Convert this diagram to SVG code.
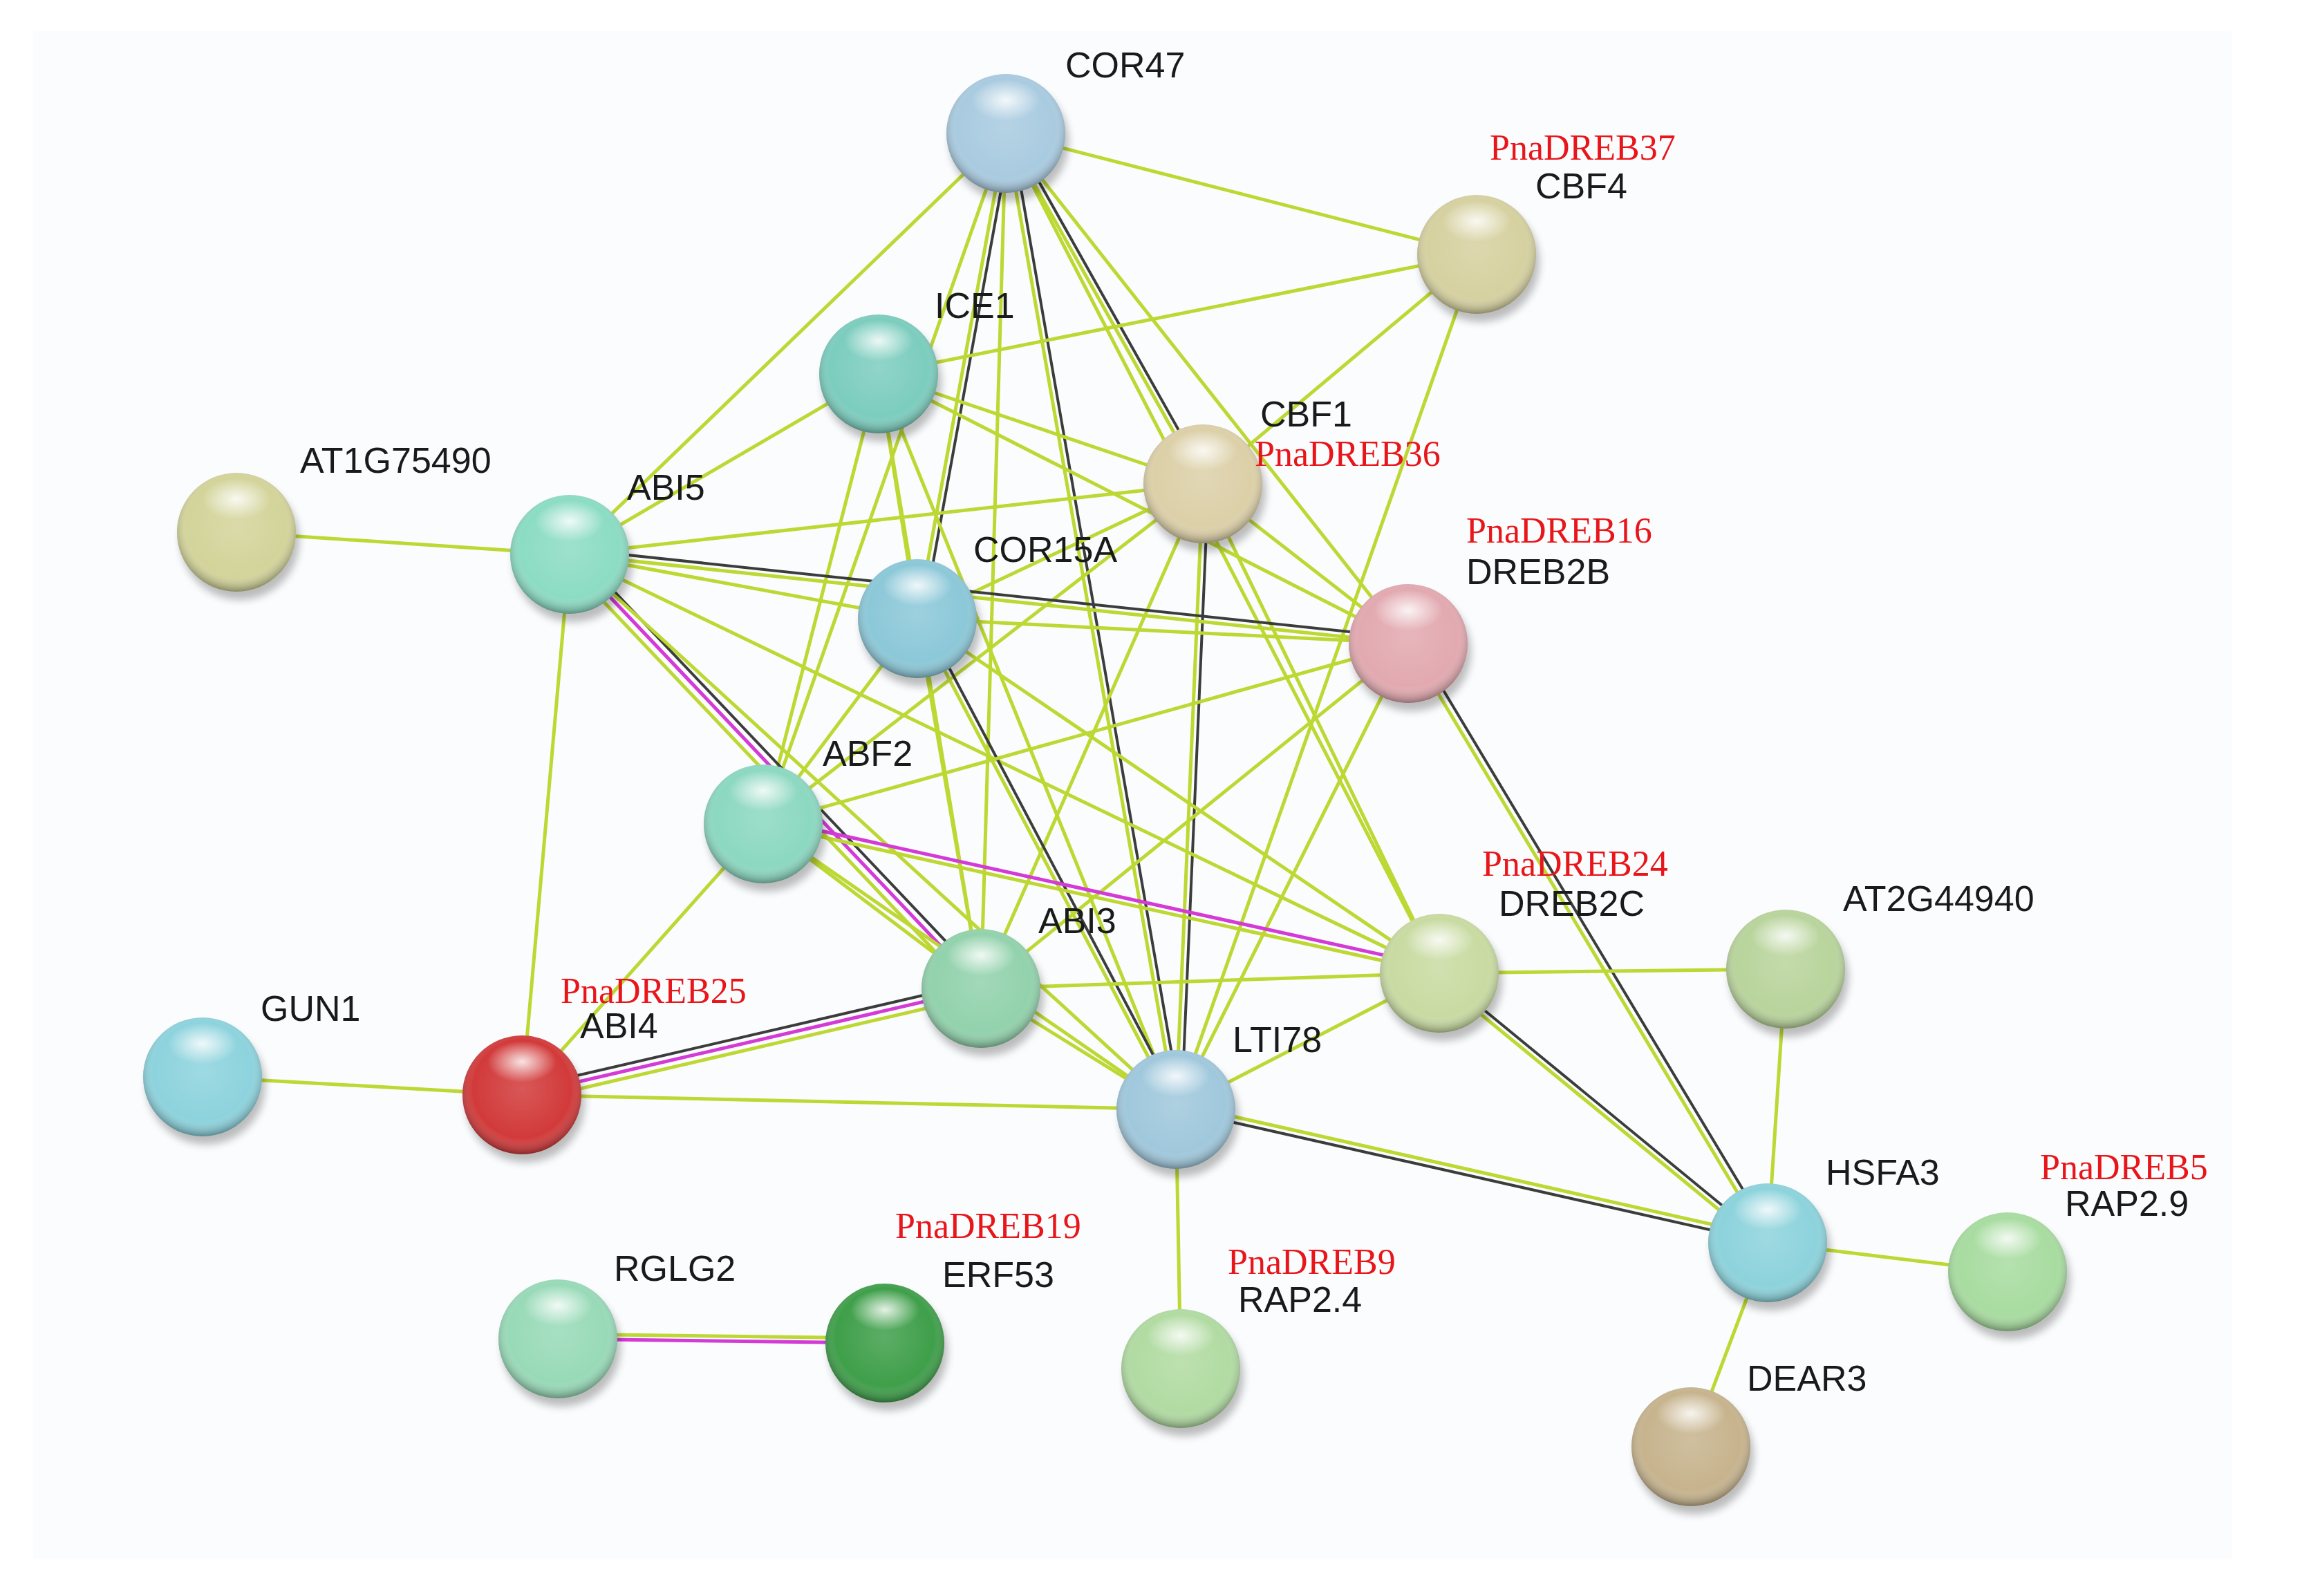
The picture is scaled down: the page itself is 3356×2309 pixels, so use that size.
<svg xmlns="http://www.w3.org/2000/svg" width="3356" height="2309" viewBox="0 0 3356 2309">
<style>
.g{stroke:#bdd733;stroke-width:5;fill:none}
.k{stroke:#3c3c3c;stroke-width:4;fill:none}
.m{stroke:#d33ad6;stroke-width:5;fill:none}
.t{font-family:"Liberation Sans",Arial,sans-serif;font-size:52px;fill:#1a1a1a}
.r{font-family:"Liberation Serif","Times New Roman",serif;font-size:52px;fill:#e8161b}
.sh{fill:url(#shade)}
.hl{fill:url(#hi)}
.sd{fill:#000;opacity:0.25;filter:url(#blur)}
</style>
<defs>
<radialGradient id="shade" cx="0.5" cy="0.45" r="0.55">
<stop offset="0" stop-color="#fff" stop-opacity="0.15"/>
<stop offset="0.75" stop-color="#fff" stop-opacity="0"/>
<stop offset="1" stop-color="#000" stop-opacity="0.35"/>
</radialGradient>
<radialGradient id="hi" cx="0.5" cy="0.5" r="0.5">
<stop offset="0" stop-color="#fff" stop-opacity="0.85"/>
<stop offset="1" stop-color="#fff" stop-opacity="0"/>
</radialGradient>
<filter id="blur"><feGaussianBlur stdDeviation="6"/></filter>
</defs>
<rect width="3356" height="2309" fill="#fff"/>
<rect x="48" y="45" width="3180" height="2210" fill="#fbfcfd"/>
<g id="edges">
<line class="g" x1="1455" y1="193" x2="2136" y2="368"/>
<line class="g" x1="1455" y1="193" x2="824" y2="802"/>
<line class="g" x1="1455" y1="193" x2="1104" y2="1192"/>
<line class="g" x1="1455" y1="193" x2="1419" y2="1430"/>
<line class="g" x1="1455" y1="193" x2="2037" y2="931"/>
<line class="g" x1="1455" y1="193" x2="2082" y2="1408"/>
<line class="g" x1="1455" y1="193" x2="1327" y2="895"/>
<line class="k" x1="1455" y1="193" x2="1327" y2="895" transform="translate(8,0)"/>
<line class="g" x1="1455" y1="193" x2="1701" y2="1605"/>
<line class="k" x1="1455" y1="193" x2="1701" y2="1605" transform="translate(8,0)"/>
<line class="g" x1="1455" y1="193" x2="1740" y2="700"/>
<line class="k" x1="1455" y1="193" x2="1740" y2="700" transform="translate(7,-3)"/>
<line class="g" x1="2136" y1="368" x2="1271" y2="541"/>
<line class="g" x1="2136" y1="368" x2="1740" y2="700"/>
<line class="g" x1="2136" y1="368" x2="1701" y2="1605"/>
<line class="g" x1="1271" y1="541" x2="824" y2="802"/>
<line class="g" x1="1271" y1="541" x2="1740" y2="700"/>
<line class="g" x1="1271" y1="541" x2="2037" y2="931"/>
<line class="g" x1="1271" y1="541" x2="1104" y2="1192"/>
<line class="g" x1="1271" y1="541" x2="1419" y2="1430"/>
<line class="g" x1="1271" y1="541" x2="1701" y2="1605"/>
<line class="g" x1="1271" y1="541" x2="1327" y2="895"/>
<line class="g" x1="1740" y1="700" x2="824" y2="802"/>
<line class="g" x1="1740" y1="700" x2="1104" y2="1192"/>
<line class="g" x1="1740" y1="700" x2="1419" y2="1430"/>
<line class="g" x1="1740" y1="700" x2="2037" y2="931"/>
<line class="g" x1="1740" y1="700" x2="1327" y2="895"/>
<line class="g" x1="1740" y1="700" x2="2082" y2="1408"/>
<line class="g" x1="1740" y1="700" x2="1701" y2="1605"/>
<line class="k" x1="1740" y1="700" x2="1701" y2="1605" transform="translate(8,0)"/>
<line class="g" x1="342" y1="770" x2="824" y2="802"/>
<line class="g" x1="824" y1="802" x2="1327" y2="895"/>
<line class="g" x1="824" y1="802" x2="2037" y2="931"/>
<line class="k" x1="824" y1="802" x2="2037" y2="931" transform="translate(0,-8)"/>
<line class="g" x1="824" y1="802" x2="755" y2="1584"/>
<line class="g" x1="824" y1="802" x2="1419" y2="1430" transform="translate(-10,6)"/>
<line class="m" x1="824" y1="802" x2="1419" y2="1430"/>
<line class="k" x1="824" y1="802" x2="1419" y2="1430" transform="translate(8,-6)"/>
<line class="g" x1="824" y1="802" x2="1701" y2="1605"/>
<line class="g" x1="824" y1="802" x2="2082" y2="1408"/>
<line class="g" x1="1327" y1="895" x2="1104" y2="1192"/>
<line class="g" x1="1327" y1="895" x2="1419" y2="1430"/>
<line class="g" x1="1327" y1="895" x2="1701" y2="1605"/>
<line class="k" x1="1327" y1="895" x2="1701" y2="1605" transform="translate(7,-3)"/>
<line class="g" x1="1327" y1="895" x2="2037" y2="931"/>
<line class="g" x1="1327" y1="895" x2="2082" y2="1408"/>
<line class="g" x1="2037" y1="931" x2="1104" y2="1192"/>
<line class="g" x1="2037" y1="931" x2="1419" y2="1430"/>
<line class="g" x1="2037" y1="931" x2="1701" y2="1605"/>
<line class="g" x1="2037" y1="931" x2="2557" y2="1798"/>
<line class="k" x1="2037" y1="931" x2="2557" y2="1798" transform="translate(8,-4)"/>
<line class="g" x1="1104" y1="1192" x2="1419" y2="1430"/>
<line class="g" x1="1104" y1="1192" x2="755" y2="1584"/>
<line class="g" x1="1104" y1="1192" x2="2082" y2="1408"/>
<line class="m" x1="1104" y1="1192" x2="2082" y2="1408" transform="translate(2,-8)"/>
<line class="g" x1="1104" y1="1192" x2="1701" y2="1605"/>
<line class="g" x1="1419" y1="1430" x2="755" y2="1584" transform="translate(2,10)"/>
<line class="m" x1="1419" y1="1430" x2="755" y2="1584"/>
<line class="k" x1="1419" y1="1430" x2="755" y2="1584" transform="translate(-2,-9)"/>
<line class="g" x1="1419" y1="1430" x2="1701" y2="1605"/>
<line class="g" x1="1419" y1="1430" x2="2082" y2="1408"/>
<line class="g" x1="755" y1="1584" x2="293" y2="1558"/>
<line class="g" x1="755" y1="1584" x2="1701" y2="1605"/>
<line class="g" x1="1701" y1="1605" x2="2082" y2="1408"/>
<line class="g" x1="1701" y1="1605" x2="2557" y2="1798" transform="translate(2,-8)"/>
<line class="k" x1="1701" y1="1605" x2="2557" y2="1798"/>
<line class="g" x1="1701" y1="1605" x2="1708" y2="1980"/>
<line class="g" x1="2082" y1="1408" x2="2583" y2="1402"/>
<line class="g" x1="2082" y1="1408" x2="2557" y2="1798" transform="translate(-5,6)"/>
<line class="k" x1="2082" y1="1408" x2="2557" y2="1798"/>
<line class="g" x1="2583" y1="1402" x2="2557" y2="1798"/>
<line class="g" x1="2557" y1="1798" x2="2904" y2="1840"/>
<line class="g" x1="2557" y1="1798" x2="2446" y2="2093"/>
<line class="g" x1="807" y1="1937" x2="1280" y2="1943" transform="translate(0,-7)"/>
<line class="m" x1="807" y1="1937" x2="1280" y2="1943"/>
</g>
<g id="COR47"><ellipse class="sd" cx="1460" cy="205" rx="86" ry="86"/><circle cx="1455" cy="193" r="86" fill="#a9cbe0"/><circle class="sh" cx="1455" cy="193" r="86"/><ellipse class="hl" cx="1455" cy="145" rx="50" ry="30"/><text class="t" x="1541" y="112">COR47</text></g>
<g id="CBF4"><ellipse class="sd" cx="2141" cy="380" rx="86" ry="86"/><circle cx="2136" cy="368" r="86" fill="#d6d1a0"/><circle class="sh" cx="2136" cy="368" r="86"/><ellipse class="hl" cx="2136" cy="320" rx="50" ry="30"/><text class="r" x="2155" y="231">PnaDREB37</text><text class="t" x="2221" y="287">CBF4</text></g>
<g id="ICE1"><ellipse class="sd" cx="1276" cy="553" rx="86" ry="86"/><circle cx="1271" cy="541" r="86" fill="#7ccdbe"/><circle class="sh" cx="1271" cy="541" r="86"/><ellipse class="hl" cx="1271" cy="493" rx="50" ry="30"/><text class="t" x="1352" y="460">ICE1</text></g>
<g id="CBF1"><ellipse class="sd" cx="1745" cy="712" rx="86" ry="86"/><circle cx="1740" cy="700" r="86" fill="#dcd0a8"/><circle class="sh" cx="1740" cy="700" r="86"/><ellipse class="hl" cx="1740" cy="652" rx="50" ry="30"/><text class="t" x="1823" y="617">CBF1</text><text class="r" x="1815" y="674">PnaDREB36</text></g>
<g id="AT1G75490"><ellipse class="sd" cx="347" cy="782" rx="86" ry="86"/><circle cx="342" cy="770" r="86" fill="#d3d49a"/><circle class="sh" cx="342" cy="770" r="86"/><ellipse class="hl" cx="342" cy="722" rx="50" ry="30"/><text class="t" x="434" y="684">AT1G75490</text></g>
<g id="ABI5"><ellipse class="sd" cx="829" cy="814" rx="86" ry="86"/><circle cx="824" cy="802" r="86" fill="#8cdcc4"/><circle class="sh" cx="824" cy="802" r="86"/><ellipse class="hl" cx="824" cy="754" rx="50" ry="30"/><text class="t" x="907" y="723">ABI5</text></g>
<g id="COR15A"><ellipse class="sd" cx="1332" cy="907" rx="86" ry="86"/><circle cx="1327" cy="895" r="86" fill="#8cc8d8"/><circle class="sh" cx="1327" cy="895" r="86"/><ellipse class="hl" cx="1327" cy="847" rx="50" ry="30"/><text class="t" x="1408" y="813">COR15A</text></g>
<g id="DREB2B"><ellipse class="sd" cx="2042" cy="943" rx="86" ry="86"/><circle cx="2037" cy="931" r="86" fill="#e2a9b0"/><circle class="sh" cx="2037" cy="931" r="86"/><ellipse class="hl" cx="2037" cy="883" rx="50" ry="30"/><text class="r" x="2121" y="785">PnaDREB16</text><text class="t" x="2121" y="845">DREB2B</text></g>
<g id="ABF2"><ellipse class="sd" cx="1109" cy="1204" rx="86" ry="86"/><circle cx="1104" cy="1192" r="86" fill="#8cd8c0"/><circle class="sh" cx="1104" cy="1192" r="86"/><ellipse class="hl" cx="1104" cy="1144" rx="50" ry="30"/><text class="t" x="1190" y="1108">ABF2</text></g>
<g id="ABI3"><ellipse class="sd" cx="1424" cy="1442" rx="86" ry="86"/><circle cx="1419" cy="1430" r="86" fill="#92d2ac"/><circle class="sh" cx="1419" cy="1430" r="86"/><ellipse class="hl" cx="1419" cy="1382" rx="50" ry="30"/><text class="t" x="1502" y="1350">ABI3</text></g>
<g id="DREB2C"><ellipse class="sd" cx="2087" cy="1420" rx="86" ry="86"/><circle cx="2082" cy="1408" r="86" fill="#c9dba2"/><circle class="sh" cx="2082" cy="1408" r="86"/><ellipse class="hl" cx="2082" cy="1360" rx="50" ry="30"/><text class="r" x="2144" y="1267">PnaDREB24</text><text class="t" x="2168" y="1325">DREB2C</text></g>
<g id="AT2G44940"><ellipse class="sd" cx="2588" cy="1414" rx="86" ry="86"/><circle cx="2583" cy="1402" r="86" fill="#b9d49c"/><circle class="sh" cx="2583" cy="1402" r="86"/><ellipse class="hl" cx="2583" cy="1354" rx="50" ry="30"/><text class="t" x="2666" y="1318">AT2G44940</text></g>
<g id="GUN1"><ellipse class="sd" cx="298" cy="1570" rx="86" ry="86"/><circle cx="293" cy="1558" r="86" fill="#8dd3dd"/><circle class="sh" cx="293" cy="1558" r="86"/><ellipse class="hl" cx="293" cy="1510" rx="50" ry="30"/><text class="t" x="377" y="1477">GUN1</text></g>
<g id="ABI4"><ellipse class="sd" cx="760" cy="1596" rx="86" ry="86"/><circle cx="755" cy="1584" r="86" fill="#d23a3a"/><circle class="sh" cx="755" cy="1584" r="86"/><ellipse class="hl" cx="755" cy="1536" rx="50" ry="30"/><text class="r" x="811" y="1451">PnaDREB25</text><text class="t" x="839" y="1502">ABI4</text></g>
<g id="LTI78"><ellipse class="sd" cx="1706" cy="1617" rx="86" ry="86"/><circle cx="1701" cy="1605" r="86" fill="#a0c8dc"/><circle class="sh" cx="1701" cy="1605" r="86"/><ellipse class="hl" cx="1701" cy="1557" rx="50" ry="30"/><text class="t" x="1783" y="1522">LTI78</text></g>
<g id="HSFA3"><ellipse class="sd" cx="2562" cy="1810" rx="86" ry="86"/><circle cx="2557" cy="1798" r="86" fill="#8dd3dc"/><circle class="sh" cx="2557" cy="1798" r="86"/><ellipse class="hl" cx="2557" cy="1750" rx="50" ry="30"/><text class="t" x="2641" y="1714">HSFA3</text></g>
<g id="RAP2.9"><ellipse class="sd" cx="2909" cy="1852" rx="86" ry="86"/><circle cx="2904" cy="1840" r="86" fill="#a8dca0"/><circle class="sh" cx="2904" cy="1840" r="86"/><ellipse class="hl" cx="2904" cy="1792" rx="50" ry="30"/><text class="r" x="2951" y="1706">PnaDREB5</text><text class="t" x="2987" y="1759">RAP2.9</text></g>
<g id="RGLG2"><ellipse class="sd" cx="812" cy="1949" rx="86" ry="86"/><circle cx="807" cy="1937" r="86" fill="#98dab8"/><circle class="sh" cx="807" cy="1937" r="86"/><ellipse class="hl" cx="807" cy="1889" rx="50" ry="30"/><text class="t" x="888" y="1853">RGLG2</text></g>
<g id="ERF53"><ellipse class="sd" cx="1285" cy="1955" rx="86" ry="86"/><circle cx="1280" cy="1943" r="86" fill="#3f9f4a"/><circle class="sh" cx="1280" cy="1943" r="86"/><ellipse class="hl" cx="1280" cy="1895" rx="50" ry="30"/><text class="r" x="1295" y="1791">PnaDREB19</text><text class="t" x="1363" y="1862">ERF53</text></g>
<g id="RAP2.4"><ellipse class="sd" cx="1713" cy="1992" rx="86" ry="86"/><circle cx="1708" cy="1980" r="86" fill="#b1dba2"/><circle class="sh" cx="1708" cy="1980" r="86"/><ellipse class="hl" cx="1708" cy="1932" rx="50" ry="30"/><text class="r" x="1776" y="1843">PnaDREB9</text><text class="t" x="1791" y="1898">RAP2.4</text></g>
<g id="DEAR3"><ellipse class="sd" cx="2451" cy="2105" rx="86" ry="86"/><circle cx="2446" cy="2093" r="86" fill="#c7b48e"/><circle class="sh" cx="2446" cy="2093" r="86"/><ellipse class="hl" cx="2446" cy="2045" rx="50" ry="30"/><text class="t" x="2527" y="2012">DEAR3</text></g>
</svg>
